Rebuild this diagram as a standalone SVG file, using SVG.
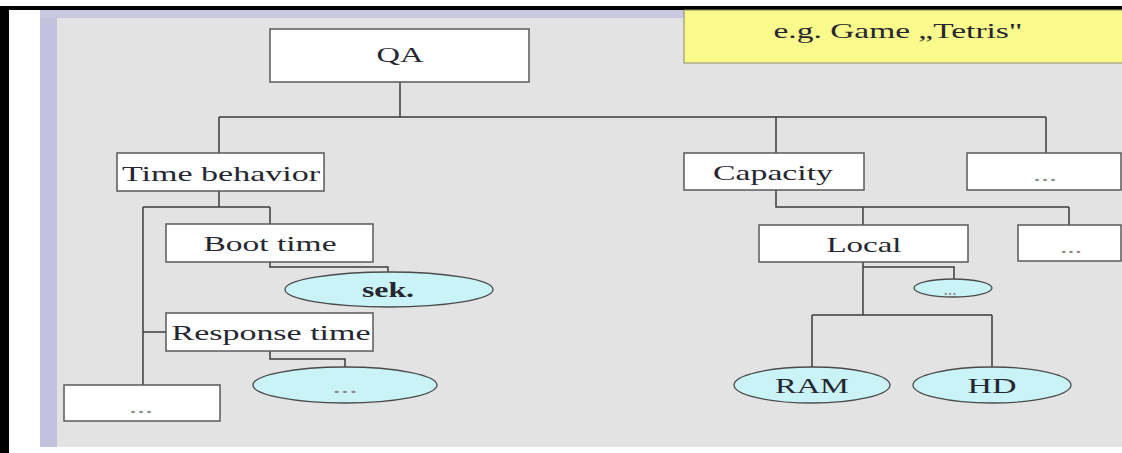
<svg xmlns="http://www.w3.org/2000/svg" width="1122" height="453" viewBox="0 0 1122 453">
<defs>
<style>
.box{fill:#ffffff;stroke:#5a5a5a;stroke-width:1.5}
.ell{fill:#c9f3f6;stroke:#4a4a4a;stroke-width:1.3}
.t{font-family:"Liberation Serif","Times New Roman",serif;font-size:21px;fill:#262630;text-anchor:middle}
.d{font-family:"Liberation Serif","Times New Roman",serif;font-size:18px;fill:#8a8a8a;text-anchor:middle}
.c{fill:none;stroke:#3c3c3c;stroke-width:1.5}
</style>
<linearGradient id="lav" x1="0" y1="0" x2="1" y2="0">
<stop offset="0" stop-color="#c2c2de"/>
<stop offset="1" stop-color="#d6d6e6"/>
</linearGradient>
</defs>
<rect x="0" y="0" width="1122" height="453" fill="#ffffff"/>
<rect x="40" y="10" width="1082" height="437" fill="url(#lav)"/>
<rect x="40" y="10" width="1082" height="8" fill="#c8c8e0"/>
<rect x="57" y="18" width="1065" height="429" fill="#e3e3e3"/>
<rect x="0" y="6" width="1122" height="4" fill="#000000"/>
<rect x="0" y="6" width="9" height="447" fill="#000000"/>

<g id="note">
<rect x="684" y="10" width="440" height="53" fill="#fafa8c" stroke="#8a8a6a" stroke-width="1"/>
<text class="t" x="898" y="38" textLength="249" lengthAdjust="spacingAndGlyphs">e.g. Game „Tetris"</text>
</g>

<g id="connectors">
<path class="c" d="M400 82V117M219 117H1046M219 117V153M776 117V153M1046 117V153"/>
<path class="c" d="M219 191V207M143 207H270M270 207V224M143 207V385M143 332H166"/>
<path class="c" d="M270 262V267H388V272"/>
<path class="c" d="M270 351V359H345V367"/>
<path class="c" d="M776 190V207H1069M863 207V225M1069 207V225"/>
<path class="c" d="M863 262V315M863 267H954V279M812 315H992M812 315V367M992 315V367"/>
</g>

<g id="qa">
<rect class="box" x="270" y="29" width="259" height="53"/>
<text class="t" x="400" y="62" textLength="47" lengthAdjust="spacingAndGlyphs">QA</text>
</g>
<g id="time-behavior">
<rect class="box" x="117" y="153" width="207" height="38"/>
<text class="t" x="221" y="181" textLength="198" lengthAdjust="spacingAndGlyphs">Time behavior</text>
</g>
<g id="boot-time">
<rect class="box" x="166" y="224" width="207" height="38"/>
<text class="t" x="270" y="251" textLength="133" lengthAdjust="spacingAndGlyphs">Boot time</text>
</g>
<g id="sek">
<ellipse class="ell" cx="389" cy="289.5" rx="104" ry="17.5"/>
<text class="t" x="388" y="297" font-weight="bold" textLength="52" lengthAdjust="spacingAndGlyphs">sek.</text>
</g>
<g id="response-time">
<rect class="box" x="166" y="313" width="207" height="38"/>
<text class="t" x="271" y="340" textLength="199" lengthAdjust="spacingAndGlyphs">Response time</text>
</g>
<g id="resp-more">
<ellipse class="ell" cx="345" cy="385" rx="92" ry="18"/>
<text class="d" x="345" y="393" textLength="25" lengthAdjust="spacingAndGlyphs">...</text>
</g>
<g id="tb-more">
<rect class="box" x="64" y="385" width="156" height="36"/>
<text class="d" x="141" y="413" textLength="24" lengthAdjust="spacingAndGlyphs">...</text>
</g>
<g id="capacity">
<rect class="box" x="684" y="153" width="180" height="37"/>
<text class="t" x="773" y="180" textLength="120" lengthAdjust="spacingAndGlyphs">Capacity</text>
</g>
<g id="qa-more">
<rect class="box" x="967" y="153" width="154" height="37"/>
<text class="d" x="1045" y="181" textLength="24" lengthAdjust="spacingAndGlyphs">...</text>
</g>
<g id="local">
<rect class="box" x="759" y="225" width="209" height="37"/>
<text class="t" x="864" y="252" textLength="75" lengthAdjust="spacingAndGlyphs">Local</text>
</g>
<g id="cap-more">
<rect class="box" x="1018" y="225" width="103" height="36"/>
<text class="d" x="1071" y="253" textLength="22" lengthAdjust="spacingAndGlyphs">...</text>
</g>
<g id="local-more">
<ellipse class="ell" cx="953" cy="288" rx="39" ry="9"/>
<text class="d" x="950" y="295" font-size="14" textLength="13" lengthAdjust="spacingAndGlyphs">...</text>
</g>
<g id="ram">
<ellipse class="ell" cx="812" cy="385" rx="78" ry="18"/>
<text class="t" x="812" y="393" textLength="74" lengthAdjust="spacingAndGlyphs">RAM</text>
</g>
<g id="hd">
<ellipse class="ell" cx="992" cy="385" rx="79" ry="18"/>
<text class="t" x="992" y="393" textLength="49" lengthAdjust="spacingAndGlyphs">HD</text>
</g>
</svg>
